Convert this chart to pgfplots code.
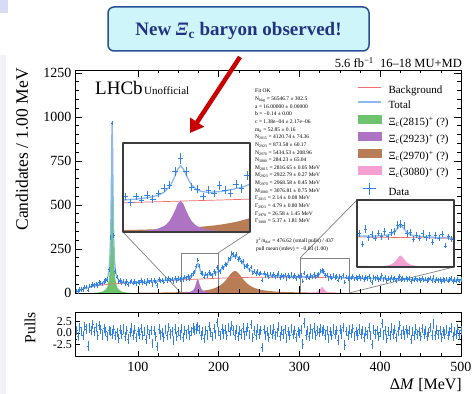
\documentclass[border=0pt]{standalone}
\usepackage{fontspec}
\setmainfont{Liberation Serif}
\usepackage{pgfplots}
\pgfplotsset{compat=1.18}
\usepackage{pgfplotstable}
\usetikzlibrary{arrows.meta}
\definecolor{datablue}{RGB}{50,130,235}
\definecolor{totblue}{RGB}{140,185,240}
\definecolor{bkgred}{RGB}{240,110,110}
\definecolor{cgreen}{RGB}{110,195,110}
\definecolor{cpurple}{RGB}{175,115,195}
\definecolor{cbrown}{RGB}{185,125,85}
\definecolor{cpink}{RGB}{245,160,210}
\definecolor{arrowred}{RGB}{200,0,0}
\definecolor{cfill}{RGB}{205,245,250}
\definecolor{cborder}{RGB}{40,80,150}
\definecolor{ctext}{RGB}{35,50,130}
\definecolor{insetgray}{RGB}{60,60,60}
\definecolor{linegray}{RGB}{130,130,130}
\definecolor{lavender}{RGB}{215,220,245}
\definecolor{bandgray}{RGB}{242,242,245}

\pgfplotstableread{
x y p
24 12 0.5
26 10 -0.8
28 20 1.2
30 21 0.3
32 21 -0.5
34 34 1.5
36 34 0.9
38 16 -2.8
40 40 1.1
42 40 0.6
44 49 1.8
46 43 0.4
48 50 1.3
50 41 -0.6
52 58 1.6
54 56 0.8
56 51 -0.4
58 67 1.0
60 70 0.3
62 78 -0.7
64 132 0.6
66 317 0.4
68 965 -0.2
70 326 0.8
72 122 -0.5
74 90 0.2
76 65 -1.1
78 72 0.7
80 61 -0.3
82 69 0.9
84 54 -0.8
86 64 0.5
88 49 -1.3
90 62 0.2
92 68 1.1
94 57 -0.4
96 65 0.7
98 54 -0.9
100 63 0.3
102 60 -0.2
104 70 1.0
106 58 -0.6
108 66 0.4
110 52 -1.4
112 70 0.8
114 62 -0.3
116 70 0.6
118 48 -2.2
120 72 0.5
122 62 -0.8
124 44 -3.0
126 78 0.9
128 68 -0.4
130 73 0.2
132 63 -1.0
134 79 0.7
136 70 -0.5
138 84 1.2
140 73 -0.2
142 79 0.4
144 63 -1.6
146 86 0.9
148 72 -0.7
150 82 0.3
152 76 -0.4
154 90 1.0
156 75 -0.9
158 90 0.6
160 82 -0.3
162 94 0.8
164 84 -0.6
166 98 0.4
168 112 1.1
170 120 0.5
172 154 0.9
174 187 1.4
176 154 0.7
178 114 -0.5
180 110 0.3
182 91 -1.2
184 107 0.6
186 98 -0.4
188 118 1.5
190 107 0.2
192 100 -0.8
194 122 1.0
196 111 -0.3
198 144 2.3
200 128 0.4
202 123 -0.6
204 148 0.9
206 143 -0.2
208 164 0.7
210 160 -0.5
212 194 1.2
214 195 0.3
216 225 1.6
218 219 0.6
220 207 -0.4
222 221 0.8
224 192 -0.7
226 199 0.5
228 177 -0.2
230 182 1.1
232 150 -0.6
234 153 0.4
236 155 1.3
238 130 -0.3
240 147 1.8
242 113 -0.9
244 124 0.5
246 111 -0.4
248 123 1.0
250 108 -0.2
252 114 0.6
254 74 -3.1
256 113 0.8
258 98 -0.5
260 105 0.3
262 91 -1.0
264 108 0.7
266 97 -0.3
268 108 0.9
270 92 -0.6
272 99 0.2
274 111 1.4
276 89 -0.8
278 101 0.5
280 94 -0.2
282 103 0.8
284 83 -1.2
286 99 0.4
288 90 -0.5
290 104 1.0
292 91 -0.3
294 99 0.6
296 84 -0.9
298 96 0.3
300 91 -0.1
302 99 0.7
304 69 -2.4
306 113 2.2
308 87 -0.4
310 96 0.5
312 85 -0.7
314 101 0.9
316 91 -0.2
318 105 1.1
320 90 -0.5
322 103 0.6
324 105 0.2
326 125 1.0
328 128 0.4
330 123 0.8
332 99 -0.4
334 102 0.6
336 83 -1.1
338 95 0.3
340 85 -0.6
342 99 0.9
344 87 -0.3
346 94 0.5
348 74 -1.5
350 94 0.7
352 85 -0.2
354 98 1.2
356 63 -2.6
358 90 0.4
360 82 -0.5
362 94 0.8
364 85 -0.1
366 95 1.0
368 79 -0.7
370 88 0.3
372 81 -0.4
374 93 0.9
376 83 -0.2
378 90 0.6
380 76 -0.9
382 87 0.4
384 81 -0.3
386 95 1.3
388 78 -0.6
390 60 -2.5
392 89 0.7
394 81 -0.2
396 87 0.5
398 75 -0.8
400 84 0.2
402 100 2.1
404 78 -0.4
406 87 0.6
408 70 -1.2
410 83 0.3
412 76 -0.5
414 90 1.1
416 78 -0.2
418 86 0.7
420 72 -0.9
422 83 0.4
424 93 1.6
426 76 -0.3
428 83 0.5
430 73 -0.6
432 86 0.8
434 77 -0.1
436 83 0.6
438 65 -1.4
440 80 0.3
442 73 -0.5
444 85 0.9
446 74 -0.3
448 80 0.4
450 70 -0.8
452 85 1.0
454 74 -0.2
456 80 0.5
458 70 -0.7
460 77 0.2
462 86 1.2
464 72 -0.4
466 92 2.0
468 69 -0.6
470 80 0.7
472 72 -0.3
474 78 0.5
476 65 -1.0
478 77 0.4
480 72 -0.2
482 80 0.8
484 69 -0.5
486 75 0.3
488 82 1.1
490 66 -0.7
492 76 0.4
494 69 -0.3
496 79 0.9
498 68 -0.4
500 75 0.5
}\data

\pgfplotstableread{
x y
24 10
26 13
28 15
30 20
32 23
34 26
36 29
38 32
40 34
42 36
44 38
46 40
48 42
50 45
52 47
54 50
56 54
58 59
60 68
62 84
63 100
64 125
65 180
66 310
66.5 431
67 611
67.5 851
68 971
68.5 852
69 612
69.5 432
70 312
71 182
72 128
73 105
74 88
76 74
78 66
80 63
82 62
84 60
86 60
88 59
90 60
95 60
100 61
110 63.5
120 68
130 71
140 75
150 79
156 83
160 85
164 90
166 94
168 101
170 115
171 127
172 143
173 160
174 169
175 161
176 146
177 131
178 120
180 107
182 103
184 101
186 102
188 103
190 105
192 108
194 111
196 114
198 119
200 124
202 130
204 137
206 145
208 155
210 166
212 178
214 191
216 202
218 210
220 213
222 209
224 202
226 192
228 180
230 168
232 157
234 148
236 140
238 133
240 127
244 119
248 112
252 108
256 105
260 102
265 100
270 98
280 96
290 94
300 92
310 91.5
316 93
320 95
322 97.5
324 103
325 109
326 114
327 120
328 124
329 120
330 114
331 108
332 103
334 96.5
336 93.7
340 91
350 87.5
360 86.3
380 84
400 81.8
420 79.6
440 77.5
460 75.4
480 73.3
500 71.3
}\tot

\pgfplotstableread{
x y
22 0
24 9
26 13
28 17
30 20
35 28
40 34
45 38
50 42
55 45
60 48
70 52
80 55
90 58
100 61
120 66
140 71
160 76
180 80
200 84
220 87
240 89
260 90
280 90
300 89
320 88
340 87
360 85
380 83
400 81
420 79
440 77
460 75
480 73
500 71
}\bkg

\pgfplotstableread{
x y
44 0
48 2
52 4
56 8
60 20
62 35
64 75
65 130
66 260
66.5 380
67 560
67.5 800
68 920
68.5 800
69 560
69.5 380
70 260
71 130
72 75
74 35
76 20
80 8
84 4
88 2
92 0
}\grn

\pgfplotstableread{
x y
150 0.3
154 1
160 2.5
164 5.5
166 9
168 15
169 20
170 28
171 40
172 55
173 72
174 80
175 72
176 55
177 40
178 28
179 20
180 15
182 9
184 5.5
188 2.5
194 1
200 0.5
210 0
}\pur

\pgfplotstableread{
x y
100 1.5
120 2.2
140 3.4
160 5.9
170 8.3
180 12.4
186 16.6
190 20.5
194 25.9
196 29.4
198 33.5
200 38.3
202 44.1
204 51.1
206 59.3
208 68.9
210 79.9
212 91.8
214 103.9
216 114.6
218 122.2
220 125
222 122.2
224 114.6
226 103.9
228 91.8
230 79.9
232 68.9
234 59.3
236 51.1
238 44.1
240 38.3
242 33.5
244 29.4
246 25.9
250 20.5
254 16.6
260 12.4
270 8.3
280 5.9
300 3.4
320 2.2
340 1.5
370 1.0
420 0.55
500 0.28
}\brn

\pgfplotstableread{
x y
308 0.9
312 1.3
316 2.3
318 3.2
320 4.7
322 7.5
324 13.3
325 19
326 24.4
327 31
328 34
329 31
330 24.4
331 19
332 13.3
334 7.5
336 4.7
338 3.2
340 2.3
344 1.3
348 0.9
}\pnk

\newcommand{\comps}{%
\addplot[draw=none, fill=cbrown, forget plot] table {\brn} \closedcycle;
\addplot[draw=none, fill=cpurple, forget plot] table {\pur} \closedcycle;
\addplot[draw=none, fill=cgreen, forget plot] table {\grn} \closedcycle;
\addplot[draw=none, fill=cpink, forget plot] table {\pnk} \closedcycle;
\addplot[bkgred, line width=0.7pt, line join=round, forget plot] table {\bkg};
\addplot[totblue, line width=1.3pt, line join=round, miter limit=1, forget plot] table {\tot};
}
\newcommand{\insetdata}[1]{%
\addplot[draw=none, forget plot, restrict x to domain=#1, error bars/.cd, x dir=both, x fixed=1, y dir=both, y explicit, error mark=none, error bar style={draw=datablue, line width=0.5pt, solid}] table[x=x, y=y, y error expr={sqrt(\thisrow{y})}] {\data};
}

\pgfplotsset{
  rootstyle/.style={
    scale only axis, anchor=south west,
    tick align=inside, major tick length=7pt, minor tick length=3.5pt,
    axis line style={line width=0.8pt},
    every tick/.style={black, line width=0.6pt},
    /pgf/number format/assume math mode=true,
    axis on top,
  }
}

\begin{document}
\begin{tikzpicture}[line join=round]
\path[use as bounding box, fill=white] (0,0) rectangle (475pt,394pt);
\fill[bandgray] (0,0) rectangle (6pt,339pt);
\fill[lavender] (0,381pt) rectangle (8pt,394pt);

% main panel
\begin{axis}[rootstyle,
  at={(75pt,101pt)}, width=386pt, height=223pt,
  xmin=22, xmax=500, ymin=0, ymax=1267,
  xtick={100,200,300,400,500}, xticklabels={}, minor x tick num=3,
  ytick={0,250,500,750,1000,1250}, yticklabels={0,250,500,750,1000,1250}, minor y tick num=4,
  yticklabel style={font=\fontsize{14}{14}\selectfont},
  legend style={at={(0.7306,0.9305)}, anchor=north west, draw=none, fill=none, inner sep=0pt,
    font=\fontsize{11}{11}\selectfont, row sep=4pt, column sep=7pt,
    nodes={inner sep=0pt, text height=8pt, text depth=2.5pt}},
  legend cell align=left,
]
\comps
\addplot[datablue, only marks, mark=|, mark size=2.3pt, mark options={solid, line width=0.75pt}, forget plot] table[x=x, y=y] {\data};
\addplot[datablue, only marks, mark=-, mark size=0.9pt, mark options={solid, line width=0.7pt}, forget plot] table[x=x, y=y] {\data};
\draw[linegray, line width=0.8pt] (axis cs:153.3,0) rectangle (axis cs:199,227);
\draw[linegray, line width=0.8pt] (axis cs:300.7,0) rectangle (axis cs:361.5,199);
\draw[linegray, line width=0.7pt] (axis cs:153.3,0) -- (axis cs:81.4,346.6);
\draw[linegray, line width=0.7pt] (axis cs:199,227) -- (axis cs:238.7,346.6);
\draw[linegray, line width=0.7pt] (axis cs:300.7,199) -- (axis cs:371.2,528.4);
\draw[linegray, line width=0.7pt] (axis cs:361.5,0) -- (axis cs:491.3,147.7);
\addlegendimage{legend image code/.code={\draw[bkgred, line width=0.7pt] (0pt,3.5pt) -- (23pt,3.5pt);}}
\addlegendentry{Background}
\addlegendimage{legend image code/.code={\draw[totblue, line width=1.3pt] (0pt,3.5pt) -- (23pt,3.5pt);}}
\addlegendentry{Total}
\addlegendimage{legend image code/.code={\fill[cgreen] (0pt,-0.5pt) rectangle (23pt,7.5pt);}}
\addlegendentry{Ξ\textsubscript{c}(2815)\textsuperscript{+} (?)}
\addlegendimage{legend image code/.code={\fill[cpurple] (0pt,-0.5pt) rectangle (23pt,7.5pt);}}
\addlegendentry{Ξ\textsubscript{c}(2923)\textsuperscript{+} (?)}
\addlegendimage{legend image code/.code={\fill[cbrown] (0pt,-0.5pt) rectangle (23pt,7.5pt);}}
\addlegendentry{Ξ\textsubscript{c}(2970)\textsuperscript{+} (?)}
\addlegendimage{legend image code/.code={\fill[cpink] (0pt,-0.5pt) rectangle (23pt,7.5pt);}}
\addlegendentry{Ξ\textsubscript{c}(3080)\textsuperscript{+} (?)}
\addlegendimage{legend image code/.code={\draw[datablue, line width=0.6pt] (11.5pt,-2.5pt) -- (11.5pt,9.5pt); \draw[datablue, line width=0.6pt] (5pt,3.5pt) -- (18pt,3.5pt);}}
\addlegendentry{Data}
\end{axis}

% pulls panel
\begin{axis}[rootstyle,
  at={(75pt,38pt)}, width=386pt, height=44pt,
  xmin=22, xmax=500, ymin=-5, ymax=4.6,
  xtick={100,200,300,400,500}, xticklabels={100,200,300,400,500}, minor x tick num=3,
  ytick={-2.5,0,2.5}, yticklabels={-2.5,0.0,2.5}, minor y tick num=1,
  major tick length=5pt, minor tick length=2.5pt,
  xticklabel style={font=\fontsize{14}{14}\selectfont, yshift=-3pt},
  yticklabel style={font=\fontsize{12}{12}\selectfont, inner sep=0pt, xshift=-3pt},
]
\addplot[datablue, only marks, mark=|, mark size=4.6pt, mark options={solid, line width=0.7pt}, forget plot] table[x=x, y=p] {\data};
\addplot[datablue, only marks, mark=-, mark size=0.9pt, mark options={solid, line width=0.7pt}, forget plot] table[x=x, y=p] {\data};
\end{axis}

% inset 1
\begin{axis}[rootstyle,
  at={(123pt,162pt)}, width=127pt, height=89pt,
  xmin=153.3, xmax=199, ymin=0, ymax=227, ticks=none,
  axis background/.style={fill=white},
  axis line style={draw=insetgray, line width=1.4pt},
]
\comps
\insetdata{150:202}
\end{axis}

% inset 2
\begin{axis}[rootstyle,
  at={(357pt,127pt)}, width=97pt, height=67pt,
  xmin=300.7, xmax=361.5, ymin=0, ymax=199, ticks=none,
  axis background/.style={fill=white},
  axis line style={draw=insetgray, line width=1.2pt},
]
\comps
\insetdata{298:364}
\end{axis}

% texts
\node[rotate=90, anchor=east, font=\fontsize{17.5}{17.5}\selectfont, inner sep=0pt] at (22pt,326pt) {Candidates / 1.00 MeV};
\node[rotate=90, anchor=east, font=\fontsize{15.5}{15.5}\selectfont, inner sep=0pt] at (30pt,82pt) {Pulls};
\node[anchor=base east, font=\fontsize{16}{16}\selectfont, inner sep=0pt] at (462pt,4pt) {Δ\textit{M} [MeV]};
\node[anchor=base east, font=\fontsize{12.5}{12.5}\selectfont, inner sep=0pt] at (462pt,326pt) {5.6 fb\textsuperscript{−1}\ \ 16–18 MU+MD};
\node[anchor=base west, font=\fontsize{19}{19}\selectfont, inner sep=0pt] at (95pt,299pt) {LHCb};
\node[anchor=base west, font=\fontsize{11}{11}\selectfont, inner sep=0pt] at (144pt,299pt) {Unofficial};

\node[anchor=north west, align=left, font=\fontsize{5.5}{7.65}\selectfont, inner sep=0pt] at (255pt,305pt) {%
Fit OK\\
N\textsubscript{bkg} = 56546.7 ± 302.5\\
a = 16.00000 ± 0.00000\\
b = −0.14 ± 0.00\\
c = 1.38e−04 ± 2.17e−06\\
m\textsubscript{0} = 52.85 ± 0.16\\
N\textsubscript{2815} = 4120.74 ± 74.36\\
N\textsubscript{2923} = 873.58 ± 60.17\\
N\textsubscript{2970} = 5434.53 ± 208.96\\
N\textsubscript{3080} = 284.23 ± 65.04\\
M\textsubscript{2815} = 2816.65 ± 0.05 MeV\\
M\textsubscript{2923} = 2922.79 ± 0.27 MeV\\
M\textsubscript{2970} = 2968.58 ± 0.45 MeV\\
M\textsubscript{3080} = 3076.81 ± 0.75 MeV\\
Γ\textsubscript{2815} = 2.14 ± 0.08 MeV\\
Γ\textsubscript{2923} = 4.79 ± 0.80 MeV\\
Γ\textsubscript{2970} = 26.58 ± 1.45 MeV\\
Γ\textsubscript{3080} = 5.37 ± 1.81 MeV};
\node[anchor=north west, align=left, font=\fontsize{5.5}{8}\selectfont, inner sep=0pt] at (256pt,156pt) {%
χ\textsuperscript{2}/n\textsubscript{dof} = 476.62 (small pulls) / 437\\
pull mean (stdev) = −0.03 (1.00)};

% callout and arrow
\draw[rounded corners=6pt, draw=cborder, line width=1.5pt, fill=cfill] (108pt,343pt) rectangle (369pt,387pt);
\node[anchor=base, font=\fontsize{19}{19}\selectfont\bfseries, text=ctext, inner sep=0pt] at (238.5pt,358pt) {New {\itshape Ξ}\textsubscript{c} baryon observed!};
\draw[line width=4.5pt, arrowred, line join=miter, -{Triangle[length=13pt,width=16pt]}] (240pt,337pt) -- (190pt,261pt);
\end{tikzpicture}
\end{document}
